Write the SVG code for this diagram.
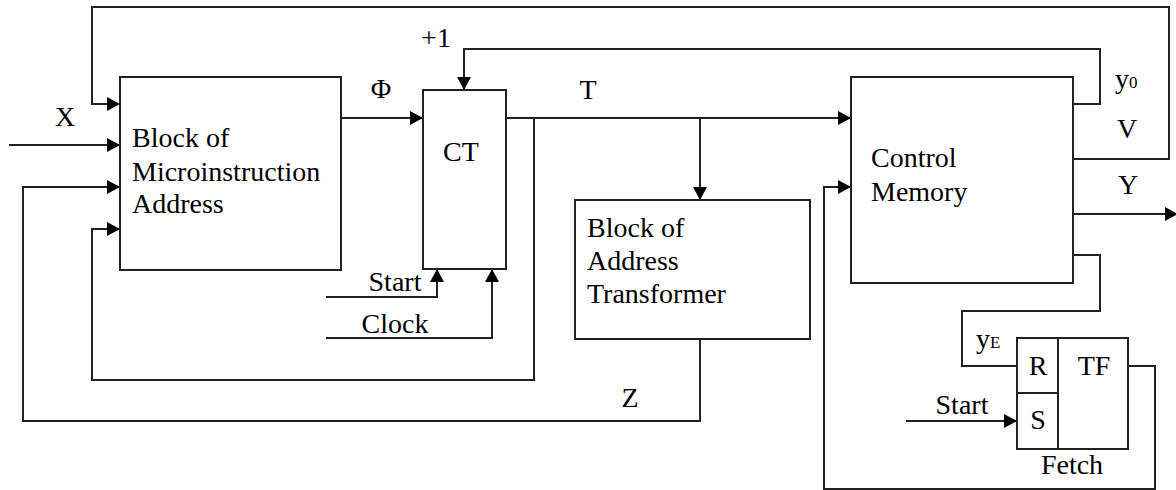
<svg xmlns="http://www.w3.org/2000/svg" width="1176" height="490" viewBox="0 0 1176 490">
<style>
.box{fill:#fff;stroke:#222;stroke-width:2}
.w{fill:none;stroke:#222;stroke-width:2}
.a{marker-end:url(#ah)}
.m{text-anchor:middle}
.sub{font-size:17px}
</style>
<defs>
<marker id="ah" markerUnits="userSpaceOnUse" markerWidth="14" markerHeight="14" refX="13" refY="7" orient="auto">
<path d="M0,0 L13,7 L0,14 z" fill="#000"/>
</marker>
</defs>
<rect width="1176" height="490" fill="#fff"/>
<g id="connectors">
<path class="w a" d="M1073,159 H1169 V7 H92 V104 H120"/>
<path class="w a" d="M9,145 H120"/>
<path class="w a" d="M700,339 V421 H23 V187 H120"/>
<path class="w a" d="M534,118 V380 H92 V229 H120"/>
<path class="w a" d="M341,118 H423"/>
<path class="w a" d="M1073,104 H1100 V49 H464 V90"/>
<path class="w a" d="M506,118 H851"/>
<path class="w a" d="M700,118 V200"/>
<path class="w a" d="M326,297 H437 V269"/>
<path class="w a" d="M326,338 H492 V269"/>
<path class="w a" d="M1073,214 H1178"/>
<path class="w a" d="M1128,366 H1155 V489 H824 V187 H851"/>
<path class="w" d="M1073,255 H1100 V311 H962 V366 H1017"/>
<path class="w a" d="M906,421 H1017"/>
</g>
<g font-family="Liberation Serif" font-size="28" fill="#000">
<g id="block-address">
<rect class="box" x="120" y="77" width="221" height="193"/>
<text x="132" y="147" font-family="Liberation Serif">Block of</text>
<text x="132" y="181" font-family="Liberation Serif">Microinstruction</text>
<text x="132" y="213" font-family="Liberation Serif">Address</text>
</g>
<g id="ct">
<rect class="box" x="423" y="90" width="83" height="179"/>
<text class="m" x="461" y="161" font-family="Liberation Serif">CT</text>
</g>
<g id="block-transformer">
<rect class="box" x="575" y="200" width="235" height="139"/>
<text x="587" y="237" font-family="Liberation Serif">Block of</text>
<text x="587" y="270" font-family="Liberation Serif">Address</text>
<text x="587" y="303" font-family="Liberation Serif">Transformer</text>
</g>
<g id="control-memory">
<rect class="box" x="851" y="77" width="222" height="206"/>
<text x="871" y="167" font-family="Liberation Serif">Control</text>
<text x="871" y="201" font-family="Liberation Serif">Memory</text>
</g>
<g id="trigger">
<rect class="box" x="1017" y="338" width="111" height="111"/>
<path class="w" d="M1058,338 V449 M1017,393 H1058"/>
<text class="m" x="1038" y="375" font-family="Liberation Serif">R</text>
<text class="m" x="1038" y="429" font-family="Liberation Serif">S</text>
<text class="m" x="1094" y="375" font-family="Liberation Serif">TF</text>
<text class="m" x="1072" y="474" font-family="Liberation Serif">Fetch</text>
</g>
<g id="labels">
<text class="m" x="65" y="126" font-family="Liberation Serif">X</text>
<text class="m" x="381" y="98" font-family="Liberation Serif">Φ</text>
<text class="m" x="436" y="47" font-family="Liberation Serif">+1</text>
<text class="m" x="588" y="99" font-family="Liberation Serif">T</text>
<text x="1115" y="88" font-family="Liberation Serif">y<tspan class="sub">0</tspan></text>
<text class="m" x="1127" y="138" font-family="Liberation Serif">V</text>
<text class="m" x="1128" y="194" font-family="Liberation Serif">Y</text>
<text x="976" y="348" font-family="Liberation Serif">y<tspan class="sub">E</tspan></text>
<text class="m" x="962" y="414" font-family="Liberation Serif">Start</text>
<text class="m" x="395" y="291" font-family="Liberation Serif">Start</text>
<text class="m" x="395" y="333" font-family="Liberation Serif">Clock</text>
<text class="m" x="630" y="407" font-family="Liberation Serif">Z</text>
</g>
</g>
</svg>
